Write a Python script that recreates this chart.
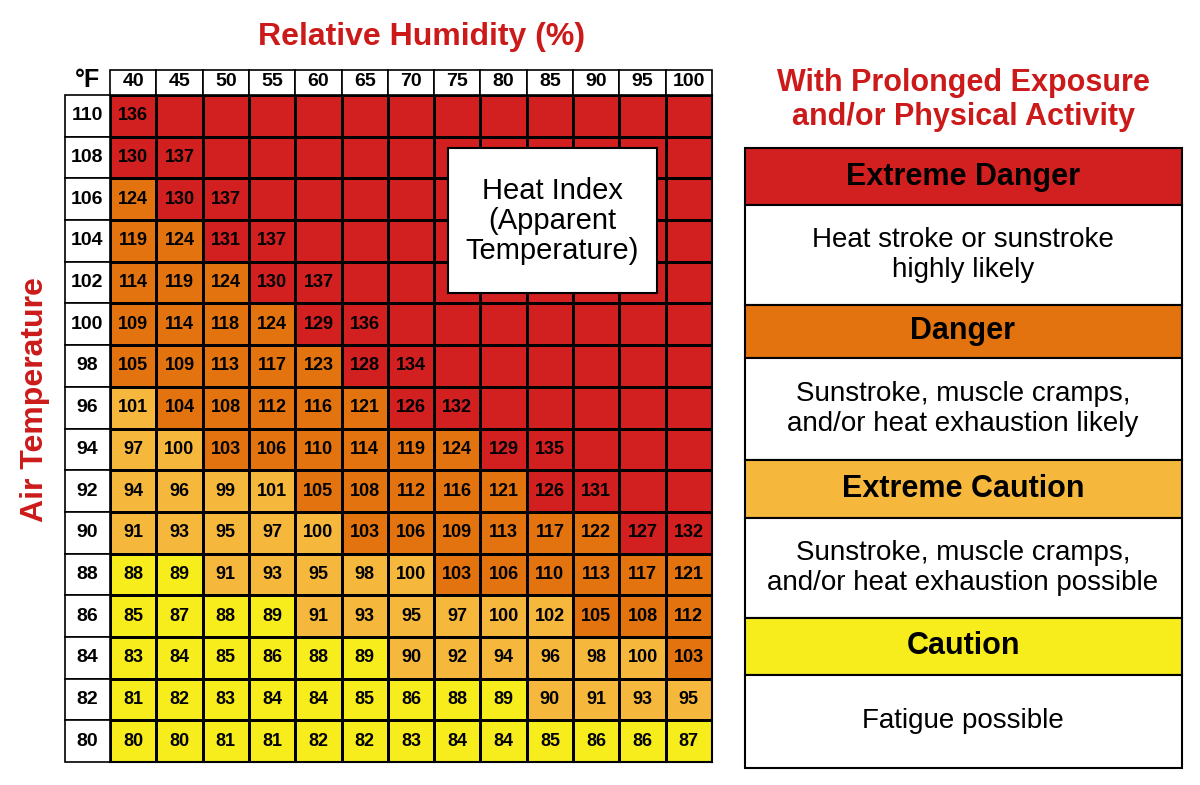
import numpy as np, pandas as pd, seaborn as sns
import matplotlib; matplotlib.use("Agg")
import matplotlib.pyplot as plt
from matplotlib.colors import ListedColormap, BoundaryNorm
from matplotlib.patches import Rectangle

humidity = [40,45,50,55,60,65,70,75,80,85,90,95,100]
temps = [110,108,106,104,102,100,98,96,94,92,90,88,86,84,82,80]
rows = [
 [136],
 [130,137],
 [124,130,137],
 [119,124,131,137],
 [114,119,124,130,137],
 [109,114,118,124,129,136],
 [105,109,113,117,123,128,134],
 [101,104,108,112,116,121,126,132],
 [97,100,103,106,110,114,119,124,129,135],
 [94,96,99,101,105,108,112,116,121,126,131],
 [91,93,95,97,100,103,106,109,113,117,122,127,132],
 [88,89,91,93,95,98,100,103,106,110,113,117,121],
 [85,87,88,89,91,93,95,97,100,102,105,108,112],
 [83,84,85,86,88,89,90,92,94,96,98,100,103],
 [81,82,83,84,84,85,86,88,89,90,91,93,95],
 [80,80,81,81,82,82,83,84,84,85,86,86,87],
]
YEL, LOR, ORG, RED = "#f7ec1c", "#f6b83c", "#e2730f", "#d21f1f"
vals = np.full((len(temps), len(humidity)), np.nan)
for i, r in enumerate(rows):
    vals[i, :len(r)] = r
colorvals = np.where(np.isnan(vals), 140, vals)
df = pd.DataFrame(colorvals, index=temps, columns=humidity)
annot = np.array([["" if np.isnan(v) else str(int(v)) for v in r] for r in vals])

plt.rcParams['font.family'] = ['Liberation Sans', 'DejaVu Sans']
fig = plt.figure(figsize=(12, 7.85), dpi=100)
W, H = 1200, 785
def fx(x): return x / W
def fy(y): return 1 - y / H

ax = fig.add_axes([fx(110), fy(762), fx(712-110), fy(95)-fy(762)])
cmap = ListedColormap([YEL, LOR, ORG, RED])
norm = BoundaryNorm([0, 90, 103, 125, 200], 4)
sns.heatmap(df, ax=ax, cmap=cmap, norm=norm, cbar=False, annot=annot, fmt="",
            annot_kws=dict(fontsize=13, fontweight="bold", color="black"),
            linewidths=1, linecolor="black")
ax.set_xticks([]); ax.set_yticks([]); ax.set_xlabel(""); ax.set_ylabel("")
for s in ax.spines.values():
    s.set_visible(True); s.set_linewidth(1.5)

# header cells
cw = (712-110)/len(humidity); rh = (762-95)/len(temps)
for j, h in enumerate(humidity):
    x0 = 110 + j*cw
    fig.patches.append(Rectangle((fx(x0), fy(95)), fx(cw), fy(70)-fy(95), transform=fig.transFigure,
                                 facecolor="white", edgecolor="black", lw=1.2))
    fig.text(fx(x0+cw/2), fy(82), str(h), ha="center", va="center", fontsize=14, fontweight="bold")
for i, t in enumerate(temps):
    y0 = 95 + i*rh
    fig.patches.append(Rectangle((fx(65), fy(y0+rh)), fx(45), fy(y0)-fy(y0+rh), transform=fig.transFigure,
                                 facecolor="white", edgecolor="black", lw=1.2))
    fig.text(fx(87), fy(y0+rh/2), str(t), ha="center", va="center", fontsize=14, fontweight="bold")
fig.text(fx(87), fy(80), "°F", ha="center", va="center", fontsize=18, fontweight="bold")
fig.text(fx(422), fy(37), "Relative Humidity (%)", ha="center", va="center", fontsize=23,
         fontweight="bold", color="#cc1a1a")
fig.text(fx(35), fy(400), "Air Temperature", ha="center", va="center", fontsize=23,
         fontweight="bold", color="#cc1a1a", rotation=90)

# heat index label box
fig.patches.append(Rectangle((fx(448), fy(293)), fx(209), fy(148)-fy(293), transform=fig.transFigure,
                             facecolor="white", edgecolor="black", lw=1.5))
fig.text(fx(552), fy(221), "Heat Index\n(Apparent\nTemperature)", ha="center", va="center",
         fontsize=21, linespacing=1.1)

# right panel
fig.text(fx(963), fy(100), "With Prolonged Exposure\nand/or Physical Activity", ha="center",
         va="center", fontsize=22, fontweight="bold", color="#cc1a1a", linespacing=1.2)
panel = [
 (148, 205, RED, "Extreme Danger", True),
 (205, 305, "white", "Heat stroke or sunstroke\nhighly likely", False),
 (305, 358, ORG, "Danger", True),
 (358, 460, "white", "Sunstroke, muscle cramps,\nand/or heat exhaustion likely", False),
 (460, 518, LOR, "Extreme Caution", True),
 (518, 618, "white", "Sunstroke, muscle cramps,\nand/or heat exhaustion possible", False),
 (618, 675, YEL, "Caution", True),
 (675, 768, "white", "Fatigue possible", False),
]
for y0, y1, c, txt, bold in panel:
    fig.patches.append(Rectangle((fx(745), fy(y1)), fx(1182-745), fy(y0)-fy(y1), transform=fig.transFigure,
                                 facecolor=c, edgecolor="black", lw=1.5))
    fig.text(fx(963), fy((y0+y1)/2), txt, ha="center", va="center",
             fontsize=22 if bold else 20, fontweight="bold" if bold else "normal", linespacing=1.2)

fig.savefig("out.png", dpi=100, facecolor="white")
